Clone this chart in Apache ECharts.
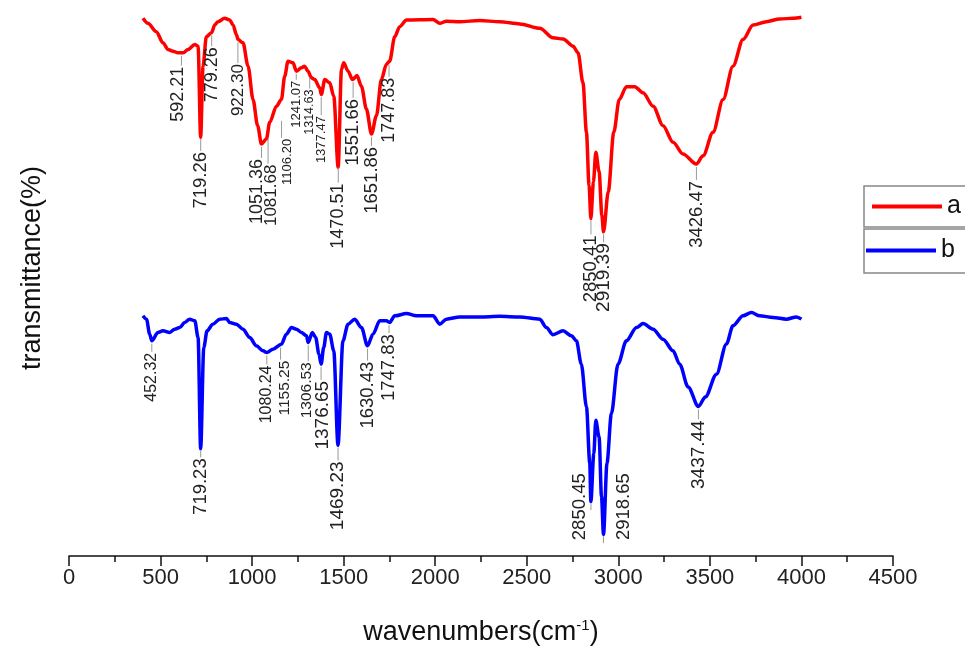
<!DOCTYPE html>
<html>
<head>
<meta charset="utf-8">
<script src="https://cdn.jsdelivr.net/npm/echarts@6/dist/echarts.min.js"></script>
<style>
html,body{margin:0;padding:0;background:#fff;}
#chart{width:965px;height:651px;}
</style>
</head>
<body>
<div id="chart"></div>
<script>
// ---------- data ----------
const waveA = [404,431,477,513,541,568,595,623,650,687,705,719,732,750,778,796,814,850,878,896,914,923,950,978,1005,1030,1051,1078,1096,1133,1160,1178,1196,1223,1242,1269,1287,1305,1324,1342,1369,1378,1397,1424,1446,1470,1488,1500,1524,1548,1573,1597,1624,1652,1679,1706,1733,1751,1779,1806,1843,1988,2025,2061,2134,2243,2352,2462,2571,2643,2698,2753,2780,2807,2826,2840,2850,2864,2877,2895,2910,2919,2945,2975,3005,3044,3090,3135,3190,3244,3299,3353,3426,3463,3517,3572,3626,3681,3736,3809,3881,3954,4000];
const transA = [96.7,95.8,94.3,92.3,91.1,90.8,90.5,90.5,91.1,92.0,91.7,75.3,88.1,93.4,94.1,95.5,96.1,96.7,96.4,95.5,93.8,92.9,92.3,88.1,82.1,77.4,74.1,75.0,78.0,80.9,82.1,86.3,89.0,88.7,87.2,87.8,88.1,87.2,86.0,85.7,84.2,83.0,85.7,85.1,82.7,69.9,87.5,88.7,87.2,85.7,86.4,84.5,80.4,75.9,79.2,85.7,88.4,89.0,93.4,95.2,96.4,96.5,95.8,96.2,96.1,96.3,96.1,95.7,94.9,93.2,93.0,91.7,90.5,85.1,76.2,66.7,60.7,67.3,72.6,69.1,61.3,58.3,65.5,76.2,82.1,84.4,84.4,83.3,80.9,77.4,74.4,72.3,70.5,72.0,76.2,82.1,88.1,92.9,95.5,96.1,96.6,96.7,96.9];

const waveB = [404,423,441,452,486,513,550,577,605,632,659,687,705,719,736,754,786,823,860,878,914,950,987,1023,1060,1080,1114,1160,1187,1215,1242,1269,1297,1306,1329,1347,1365,1377,1391,1406,1424,1446,1469,1496,1524,1560,1597,1630,1660,1697,1733,1751,1779,1843,1897,1988,2025,2061,2134,2243,2352,2462,2571,2607,2643,2698,2744,2771,2798,2826,2844,2850,2866,2877,2895,2908,2919,2938,2962,2998,3044,3099,3135,3190,3244,3299,3335,3381,3437,3475,3536,3590,3626,3681,3727,3772,3845,3918,3973,4000];
const transB = [43.2,42.6,39.9,38.7,40.2,40.5,40.2,40.8,41.1,42.0,42.6,42.3,39.3,19.3,37.5,40.5,41.7,42.6,42.7,42.0,41.7,40.8,39.3,37.8,36.9,36.6,37.2,38.1,39.9,41.1,40.8,40.2,39.6,38.4,40.2,39.3,36.3,34.5,37.5,40.2,39.9,36.9,19.9,38.7,41.7,42.6,41.1,37.8,39.9,42.3,42.3,42.0,43.2,43.6,43.2,43.2,41.7,42.6,43.0,43.0,43.1,43.0,42.6,41.1,39.8,40.5,39.6,38.7,34.5,26.8,16.7,9.8,18.4,24.4,21.4,10.7,3.9,16.7,25.6,34.5,38.7,41.1,41.8,40.8,39.0,36.9,34.5,30.4,26.9,28.6,32.7,38.1,41.4,43.2,43.8,43.2,42.9,42.6,43.0,42.6];

const peaksA = [592.21,719.26,779.26,922.30,1051.36,1081.68,1106.20,1241.07,1314.63,1377.47,1470.51,1551.66,1651.86,1747.83,2850.41,2919.39,3426.47];
const peaksB = [452.32,719.23,1080.24,1155.25,1306.53,1376.65,1469.23,1630.43,1747.83,2850.45,2918.65,3437.44];

const seriesNames = ['a','b'];
const xTickMin = 0, xTickMax = 4500, xTickStep = 500;

// ---------- layout / style (kept apart from data) ----------
// gap: px from curve to label start; fs: font size; ldx/tdx: small pixel nudges of tick line / text
const styleA = [
  {gap:14,fs:18,ldx:4,tdx:1},{gap:16,fs:18.5},{gap:15,fs:18},{gap:25,fs:17},
  {gap:15,fs:18,tdx:-4},{gap:29,fs:17,ldx:1,tdx:4},{gap:21,fs:13,ldx:10,tdx:16},
  {gap:10,fs:13},{gap:15,fs:12.5},{gap:22,fs:13},
  {gap:19,fs:18},{gap:20,fs:18.5},{gap:13,fs:18.5},{gap:16,fs:18},{gap:18,fs:18.5},{gap:12,fs:19},{gap:17,fs:18.5}
];
const styleB = [
  {gap:12,fs:16},{gap:11,fs:18.5},{gap:13,fs:16},{gap:16,fs:15.5,tdx:4},{gap:20,fs:15.5,tdx:-2},{gap:17,fs:19,tdx:2},
  {gap:17,fs:19},{gap:16,fs:18.5},{gap:12,fs:18.5},
  {mode:'up',dx:-11,dy:40,fs:18.5},{mode:'up',dx:20,dy:7,fs:18.5},{gap:14,fs:19}
];
const FONT = "'Liberation Sans', Arial, sans-serif";

function interp(xs, ys, x) {
  for (let i = 0; i < xs.length - 1; i++) {
    if (x >= xs[i] && x <= xs[i+1]) {
      const t = (x - xs[i]) / (xs[i+1] - xs[i]);
      return ys[i] + t * (ys[i+1] - ys[i]);
    }
  }
  return ys[ys.length-1];
}

function annotSeries(name, peaks, xs, ys, styles) {
  return {
    name: name, type: 'custom', silent: true, clip: false, z: 5,
    data: peaks.map((p, i) => [p, interp(xs, ys, p), i]),
    encode: {x: 0, y: 1},
    renderItem: function (params, api) {
      const i = api.value(2);
      const st = styles[i];
      const label = peaks[i].toFixed(2);
      const pt = api.coord([api.value(0), api.value(1)]);
      const x = pt[0], y = pt[1];
      if (st.mode === 'up') {
        return {type:'group', children:[
          {type:'line', shape:{x1:x,y1:y+3,x2:x,y2:y+10}, style:{stroke:'#999',lineWidth:1}},
          {type:'text', x:x+st.dx, y:y+st.dy, rotation:Math.PI/2,
           style:{text:label, align:'left', verticalAlign:'middle', fontSize:st.fs, fontFamily:FONT, fill:'#222'}}
        ]};
      }
      const lx = x + (st.ldx || 0);
      const tx = x + (st.tdx || 0);
      const yT = y + st.gap;
      return {type:'group', children:[
        {type:'line', shape:{x1:lx,y1:y+3,x2:lx,y2:yT-1}, style:{stroke:'#999',lineWidth:1}},
        {type:'text', x:tx, y:yT, rotation:Math.PI/2,
         style:{text:label, align:'right', verticalAlign:'middle', fontSize:st.fs, fontFamily:FONT, fill:'#222'}}
      ]};
    }
  };
}

const chart = echarts.init(document.getElementById('chart'), null, {renderer:'canvas'});
const legendBase = {
  orient:'horizontal', itemWidth:70, itemHeight:4, icon:'rect', selectedMode:false,
  borderColor:'#888', borderWidth:1.5, backgroundColor:'#fff',
  textStyle:{fontSize:25, color:'#111', fontFamily:FONT, lineHeight:23}
};
chart.setOption({
  animation:false,
  backgroundColor:'#fff',
  grid:{left:69, right:72, top:0, bottom:91, containLabel:false},
  legend:[
    Object.assign({}, legendBase, {data:[seriesNames[0]], left:864, top:186, padding:[8,40,8,8]}),
    Object.assign({}, legendBase, {data:[seriesNames[1]], left:864, top:229, padding:[9,40,10,2]})
  ],
  xAxis:{
    type:'value', min:xTickMin, max:xTickMax, interval:xTickStep,
    axisLine:{show:true, lineStyle:{color:'#111', width:1.5}},
    axisTick:{show:true, inside:false, length:10, lineStyle:{color:'#111', width:1.5}},
    minorTick:{show:true, splitNumber:2, length:6, lineStyle:{color:'#111', width:1.5}},
    splitLine:{show:false},
    axisLabel:{fontSize:22, color:'#222', fontFamily:FONT, margin:11, formatter:function(v){return String(v);}},
    name:'{b|wavenumbers(cm}{s|-1}{b|)}', nameLocation:'middle', nameGap:62,
    nameTextStyle:{rich:{
      b:{fontSize:27, color:'#111', fontFamily:FONT},
      s:{fontSize:15, color:'#111', fontFamily:FONT, padding:[0,0,14,0]}
    }}
  },
  yAxis:{
    type:'value', min:0, max:100,
    axisLine:{show:false}, axisTick:{show:false}, axisLabel:{show:false}, splitLine:{show:false}
  },
  graphic:[{
    type:'text', x:33, y:268, rotation:Math.PI/2,
    style:{text:'transmittance(%)', align:'center', verticalAlign:'middle', fontSize:27, fontFamily:FONT, fill:'#111'}
  }],
  series:[
    {name:seriesNames[0], type:'line', data:waveA.map((w,i)=>[w,transA[i]]), showSymbol:false, symbol:'none',
     smooth:0.3, smoothMonotone:'x', lineStyle:{color:'#ff0000', width:3.5}, itemStyle:{color:'#ff0000'}, z:3},
    {name:seriesNames[1], type:'line', data:waveB.map((w,i)=>[w,transB[i]]), showSymbol:false, symbol:'none',
     smooth:0.3, smoothMonotone:'x', lineStyle:{color:'#0000ff', width:3.5}, itemStyle:{color:'#0000ff'}, z:3},
    annotSeries('annA', peaksA, waveA, transA, styleA),
    annotSeries('annB', peaksB, waveB, transB, styleB)
  ]
});
</script>
</body>
</html>
